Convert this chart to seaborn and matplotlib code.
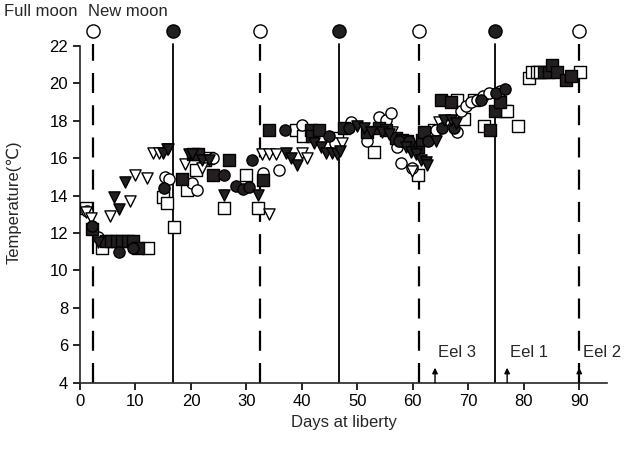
# Temperature experienced by tagged eels vs. days at liberty, with lunar phases.

import matplotlib
matplotlib.use("Agg")
import matplotlib.pyplot as plt
import seaborn as sns
import numpy as np

# filled circles
fc_day = [2.1, 7.1, 9.6, 15.1, 26, 28.2, 29.3, 30.5, 31, 36.9, 44.9, 48.5, 57.5, 59.3,
          62.7, 65.2, 67.4, 72.3, 75, 76.7]
fc_temp = [12.4, 11.0, 11.2, 14.4, 15.1, 14.5, 14.35, 14.45, 15.9, 17.5, 17.2, 17.6, 16.9, 16.9,
           16.9, 17.6, 17.6, 19.1, 19.5, 19.7]

# open circles
oc_day = [1.3, 3.2, 15.4, 16, 20.1, 21.1, 24, 32.9, 35.9, 40, 46, 48.9, 51.8, 53.9, 55.2, 56,
          57.1, 57.8, 59.8, 64.1, 67.9, 68.7, 69.5, 70.5, 71.6, 72.7, 73.7, 75.8]
oc_temp = [13.2, 11.8, 15.0, 14.9, 14.7, 14.3, 16.0, 15.2, 15.35, 17.75, 16.8, 17.95, 16.9, 18.2,
           18.05, 18.4, 16.6, 15.75, 15.5, 17.5, 17.4, 18.5, 18.8, 19.0, 19.1, 19.3, 19.5, 19.6]

# filled squares
fs_day = [2.1, 4.6, 5.5, 6.6, 7.6, 8.6, 9.5, 10.4, 18.3, 20.3, 21.2, 23.9, 26.9, 33, 34, 41.6,
          41.8, 43.1, 47.6, 51.8, 53.9, 55.2, 57, 58, 58.9, 61, 61.6, 62, 65, 66.9, 74, 74.9,
          75.8, 83.6, 84.5, 85, 85.9, 87.7, 88.6]
fs_temp = [12.2, 11.55, 11.55, 11.55, 11.55, 11.55, 11.55, 11.2, 14.9, 16.2, 16.2, 15.1, 15.9,
           14.85, 17.5, 17.5, 17.2, 17.5, 17.6, 17.4, 17.6, 17.5, 17.1, 17.0, 16.9, 16.6, 17.0,
           17.4, 19.1, 19.0, 17.5, 18.5, 19.0, 20.6, 20.6, 21.0, 20.6, 20.2, 20.4]

# open squares
os_day = [1, 3.9, 12.3, 14.9, 15.6, 17, 19.2, 21, 22.5, 23, 26, 30, 32, 39, 40.2, 46.3, 53, 61,
          63.8, 68, 69.2, 71, 72.8, 76.7, 77, 79, 80.9, 81.4, 82.3, 83, 90.2]
os_temp = [13.35, 11.2, 11.2, 13.95, 13.6, 12.3, 14.3, 15.35, 15.9, 16.0, 13.35, 15.1, 13.35,
           17.5, 17.2, 17.1, 16.35, 15.1, 17.5, 19.1, 18.1, 19.1, 17.7, 18.5, 18.5, 17.7, 20.3,
           20.6, 20.6, 20.6, 20.6]

# filled triangles
ft_day = [3.2, 6.1, 7.1, 8.2, 15.0, 15.8, 19.7, 20.1, 22, 23.3, 26, 32, 37.2, 38.1, 39.1, 42.2,
          43.4, 44.3, 45.4, 46.3, 46.8, 50, 51.2, 52.4, 54.4, 55.7, 58.7, 59.6, 60.5, 61.4,
          62.3, 62.6, 64.1, 65.6, 66.8, 67.7]
ft_temp = [11.5, 13.9, 13.3, 14.75, 16.3, 16.5, 16.2, 16.2, 15.9, 15.9, 14.05, 14.05, 16.3, 16.0,
           15.65, 16.8, 16.6, 16.3, 16.3, 16.2, 16.4, 17.7, 17.6, 17.4, 17.4, 17.3, 16.6, 16.35,
           16.2, 15.9, 15.8, 15.65, 16.9, 18.05, 18.05, 17.9]

# open triangles
ot_day = [1, 2, 5.4, 9.1, 10, 12.1, 13.1, 14.3, 15.7, 19.0, 22, 32.8, 34.1, 35.3, 34, 40, 41,
          47.2, 56.2, 59.9, 64.7, 66]
ot_temp = [13.1, 12.8, 12.9, 13.7, 15.1, 14.95, 16.3, 16.3, 16.5, 15.7, 15.5, 16.2, 16.2, 16.2,
           13.0, 16.3, 16.0, 16.8, 17.4, 15.3, 17.95, 17.9]

full_moon_days = [2.3, 32.4, 61.1, 90]
new_moon_days = [16.8, 46.7, 74.9]

eel_labels = ["Eel 3", "Eel 1", "Eel 2"]
eel_release = [64, 77, 90]

sns.set_style("ticks")
plt.rcParams["font.family"] = ["Liberation Sans", "DejaVu Sans"]

fig = plt.figure(figsize=(6.33, 4.53), dpi=100)
ax = fig.add_axes([0.1264, 0.1552, 0.8325, 0.797])

# moon phase lines
for d in full_moon_days:
    ax.plot([d, d], [4, 22.1], color="black", lw=1.6, ls=(0, (9, 5.5)), zorder=1)
for d in new_moon_days:
    ax.plot([d, d], [4, 22.1], color="black", lw=1.3, zorder=1)

ms = 65
dark = "#231f20"
sns.scatterplot(x=os_day, y=os_temp, marker="s", color="white", edgecolor="black", s=ms, linewidth=1, ax=ax, zorder=3)
sns.scatterplot(x=oc_day, y=oc_temp, marker="o", color="white", edgecolor="black", s=ms, linewidth=1, ax=ax, zorder=3)
sns.scatterplot(x=ot_day, y=ot_temp, marker="v", color="white", edgecolor="black", s=ms, linewidth=1, ax=ax, zorder=3)
sns.scatterplot(x=fs_day, y=fs_temp, marker="s", color=dark, edgecolor="black", s=ms, linewidth=1, ax=ax, zorder=4)
sns.scatterplot(x=fc_day, y=fc_temp, marker="o", color=dark, edgecolor="black", s=ms, linewidth=1, ax=ax, zorder=4)
sns.scatterplot(x=ft_day, y=ft_temp, marker="v", color=dark, edgecolor="black", s=ms, linewidth=1, ax=ax, zorder=4)

# moon symbols above the plot
ax.scatter(full_moon_days, [22.8] * len(full_moon_days), s=90, marker="o", facecolor="white",
           edgecolor="black", linewidth=1, clip_on=False, zorder=5)
ax.scatter(new_moon_days, [22.8] * len(new_moon_days), s=90, marker="o", facecolor=dark,
           edgecolor="black", linewidth=1, clip_on=False, zorder=5)
ax.text(-7.1, 23.85, "Full moon", ha="center", va="center", fontsize=12, clip_on=False)
ax.text(8.6, 23.85, "New moon", ha="center", va="center", fontsize=12, clip_on=False)

# release arrows
for lab, d in zip(eel_labels, eel_release):
    ax.annotate("", xy=(d, 4.8), xytext=(d, 4.0),
                arrowprops=dict(arrowstyle="-|>", color="black", lw=1, mutation_scale=8,
                                shrinkA=0, shrinkB=0), annotation_clip=False)
    ax.text(d + 0.6, 5.6, lab, ha="left", va="center", fontsize=12)

ax.set_xlim(0, 95)
ax.set_ylim(4, 23.3)
ax.set_xticks(np.arange(0, 91, 10))
ax.set_yticks(np.arange(4, 23, 2))
ax.spines["left"].set_bounds(4, 22)
ax.spines["top"].set_visible(False)
ax.spines["right"].set_visible(False)
for s in ["left", "bottom"]:
    ax.spines[s].set_linewidth(1.2)
ax.tick_params(axis="both", direction="out", length=5, width=1.2, labelsize=12, colors="black")
ax.set_xlabel("Days at liberty", fontsize=12)
ax.set_ylabel("Temperature(℃)", fontsize=12, labelpad=20)

fig.savefig("out.png", dpi=100)
plt.close(fig)
